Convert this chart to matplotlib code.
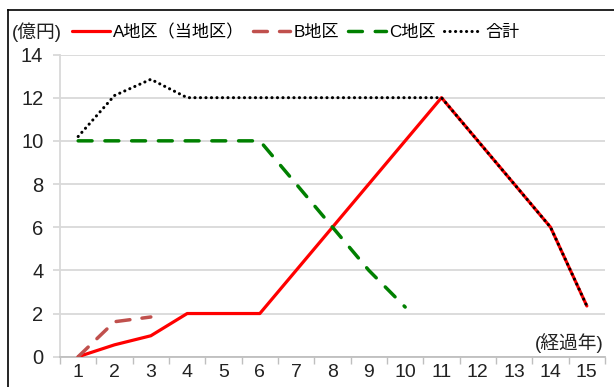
import matplotlib.pyplot as plt
import matplotlib.lines as mlines
import numpy as np

plt.rcParams['font.family'] = ['Liberation Sans', 'Noto Sans CJK JP']

years = list(range(1, 16))
area_a = [0, 0.55, 0.97, 2, 2, 2, 4, 6, 8, 10, 12, 10, 8, 6, 2.35]
area_b = [0, 1.62, 1.84]
area_c = [10, 10, 10, 10, 10, 10, 8, 6, 4, 2.3]
total = [10.2, 12.1, 12.85, 12, 12, 12, 12, 12, 12, 12, 12, 10, 8, 6, 2.35]

fig = plt.figure(figsize=(6.14, 3.87), dpi=100)
ax = fig.add_axes([60 / 614, 1 - 356.7 / 387, 545 / 614, 302.2 / 387])

ax.plot(years, area_a, color='#ff0000', lw=2.3, solid_capstyle='round',
        solid_joinstyle='round', zorder=3, label='A地区（当地区）')
ax.plot(years[:3], area_b, color='#c0504d', lw=2.5, linestyle=(0, (4.0, 3.5)),
        dash_capstyle='round', zorder=3, label='B地区')
ax.plot(years[:10], area_c, color='#008000', lw=2.5, linestyle=(0, (4.0, 3.7)),
        dash_capstyle='round', zorder=3, label='C地区')
ax.plot(years, total, color='black', lw=2.2, linestyle=(0, (0.05, 1.75)),
        dash_capstyle='round', zorder=4, label='合計')

ax.set_xlim(0.5, 15.5)
ax.set_ylim(0, 14)
ax.set_yticks(range(0, 15, 2))
ax.set_xticks(years)
ax.set_xticks(np.arange(0.5, 16, 1), minor=True)
ax.grid(axis='y', color='#d9d9d9', lw=1.3, zorder=0)
ax.tick_params(axis='x', which='major', length=0, pad=5, labelsize=14, colors='#222222')
ax.tick_params(axis='x', which='minor', length=5, color='#bfbfbf', width=1)
ax.tick_params(axis='y', length=5, color='#d9d9d9', width=1.3, pad=7,
               labelsize=14.5, labelcolor='#222222')
for s in ['top', 'right']:
    ax.spines[s].set_visible(False)
ax.spines['left'].set_color('#d9d9d9')
ax.spines['left'].set_linewidth(1.3)
ax.spines['bottom'].set_color('#bfbfbf')
ax.spines['bottom'].set_linewidth(1.3)

ax.text(15.45, 0.62, '(経過年)', ha='right', va='center', fontsize=13.5, color='#222222')
fig.text(12 / 614, 1 - 32 / 387, '(億円)', ha='left', va='center', fontsize=13.5, color='#222222')

ax.legend(loc='center left', bbox_to_anchor=(72 / 614, 1 - 32 / 387),
          bbox_transform=fig.transFigure, ncol=4, frameon=False,
          fontsize=12.3, handlelength=2.2, handletextpad=0.2, columnspacing=0.5,
          borderaxespad=0, borderpad=0)

# outer frame (top and left edges visible)
fig.add_artist(mlines.Line2D([8 / 614, 8 / 614], [0, 1 - 10 / 387], color='black', lw=1.2))
fig.add_artist(mlines.Line2D([8 / 614, 1], [1 - 10 / 387, 1 - 10 / 387], color='black', lw=1.2))

fig.savefig('out.png', dpi=100)
